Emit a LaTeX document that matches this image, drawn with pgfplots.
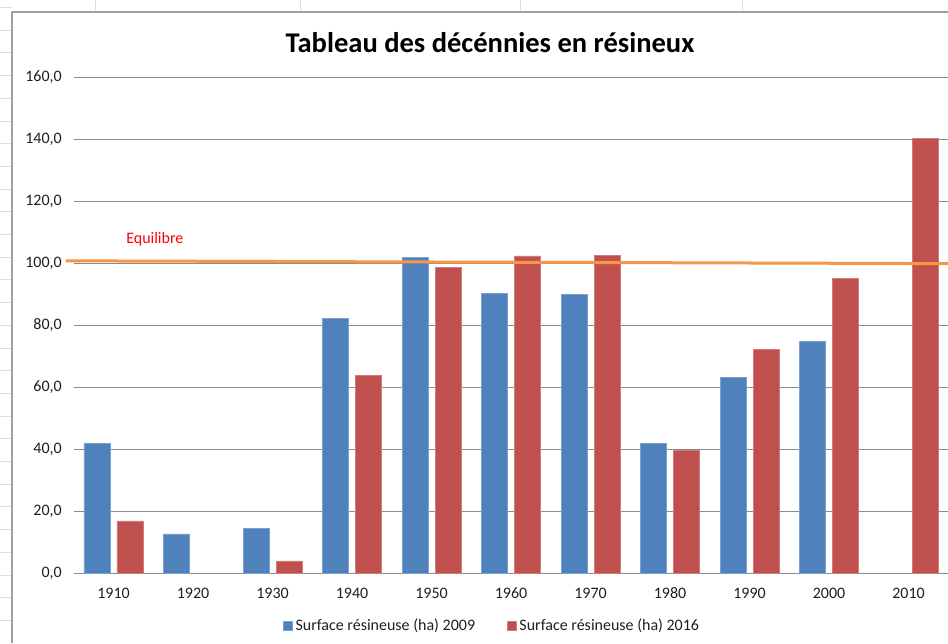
\documentclass[border=0pt]{standalone}
\usepackage{pgfplots}
\pgfplotsset{compat=1.18}
\usepackage{fontspec}
\setmainfont{Carlito}
\definecolor{barblue}{HTML}{4F81BD}
\definecolor{barred}{HTML}{C0504D}
\definecolor{eqorange}{HTML}{F79646}
\definecolor{gridgray}{HTML}{8C8C8C}
\definecolor{sheetgrid}{HTML}{D9DCE6}
\definecolor{framegray}{HTML}{A0A0A0}
\begin{document}
\begin{tikzpicture}
\useasboundingbox (0,0) rectangle (711pt,-482.25pt);
\fill[white] (0,0) rectangle (711pt,-482.25pt);
\begin{scope}[x=0.75pt,y=-0.75pt]
  \foreach \yy in {7.5,30.2,...,643} {\draw[sheetgrid, line width=0.75pt] (0,\yy) -- (12,\yy);}
  \foreach \xx in {95,300,520,742} {\draw[sheetgrid, line width=0.75pt] (\xx,0) -- (\xx,12);}
  \draw[framegray, line width=1.1pt] (12,643) -- (12,12) -- (948,12);
  \node[font=\bfseries\fontsize{21.4pt}{25pt}\selectfont, inner sep=0pt, anchor=base] at (490,52) {Tableau des décénnies en résineux};
\end{scope}
\begin{axis}[
  at={(55.31pt,-429.98pt)}, anchor=south west,
  scale only axis, width=655.9pt, height=372pt,
  xmin=-0.5, xmax=10.5, ymin=0, ymax=160,
  ytick={0,20,...,160},
  xtick={0,1,2,3,4,5,6,7,8,9,10},
  xticklabels={1910,1920,1930,1940,1950,1960,1970,1980,1990,2000,2010},
  ymajorgrids, grid style={gridgray, line width=0.9pt},
  axis x line=bottom, axis y line=left,
  y axis line style={draw=none},
  x axis line style={gridgray, line width=0.9pt, -},
  major tick length=0pt,
  ybar=5.25pt, bar width=19.5pt,
  clip=false,
  /pgf/number format/fixed,
  /pgf/number format/fixed zerofill,
  /pgf/number format/precision=1,
  /pgf/number format/use comma,
  /pgf/number format/1000 sep={},
  /pgf/number format/assume math mode=true,
  tick label style={font=\fontsize{12pt}{14pt}\selectfont, color=black!88},
  yticklabel style={anchor=east, inner sep=0pt, xshift=-8.8pt},
  xticklabel style={anchor=center, inner sep=0pt, yshift=-14.8pt},
  legend style={at={(0.4788,-0.1063)}, anchor=center, draw=none, fill=none,
    legend columns=2, font=\fontsize{12pt}{14pt}\selectfont, text=black!88,
    /tikz/every even column/.append style={column sep=22pt},
    inner sep=0pt},
  legend cell align=left,
  legend image code/.code={\fill[#1] (0pt,-3.4pt) rectangle (6.75pt,3.4pt);},
]
\addplot[fill=barblue, draw=barblue!75!white, line width=0.5pt]
  coordinates {(0,41.9) (1,12.7) (2,14.4) (3,82.2) (4,101.9) (5,90.4) (6,90.1) (7,41.9) (8,63.3) (9,74.9)};
\addplot[fill=barred, draw=barred!75!white, line width=0.5pt]
  coordinates {(0,16.9) (2,4.0) (3,63.9) (4,98.6) (5,102.4) (6,102.5) (7,39.8) (8,72.3) (9,95.2) (10,140.3)};
\legend{Surface résineuse (ha) 2009, Surface résineuse (ha) 2016}
\addplot[sharp plot, eqorange, line width=2.25pt, forget plot]
  coordinates {(-0.6,100.8) (10.5,99.9)};
\node[text=red, font=\fontsize{12pt}{14pt}\selectfont] at (axis cs:0.52,107.8) {Equilibre};
\end{axis}
\end{tikzpicture}
\end{document}
